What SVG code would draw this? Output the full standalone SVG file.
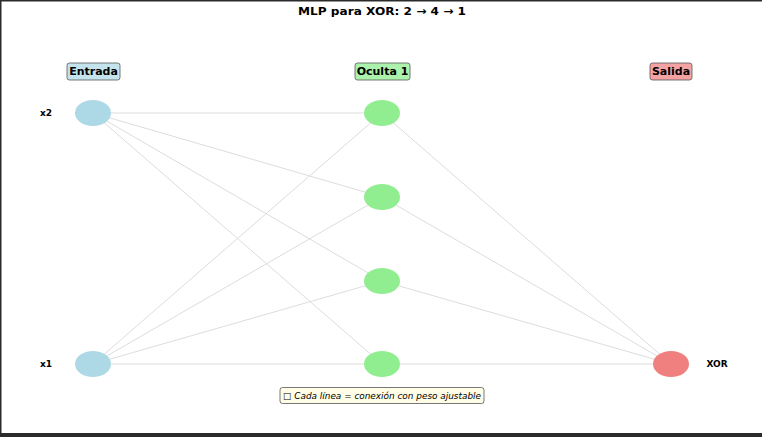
<svg xmlns="http://www.w3.org/2000/svg" width="762" height="437" viewBox="0 0 762 437">
<style>
.edge{stroke:#dcdcdc;stroke-width:1;fill:none}
.in{fill:#add8e6}
.hid{fill:#90ee90}
.out{fill:#f08080}
.lbl{font-family:"DejaVu Sans",sans-serif;font-weight:bold;font-size:11px;text-anchor:middle;dominant-baseline:central;fill:#000}
.nl{font-family:"DejaVu Sans",sans-serif;font-weight:bold;font-size:9px;text-anchor:middle;dominant-baseline:central;fill:#000}
.box{stroke:#555;stroke-width:0.8}
</style>
<rect x="0" y="0" width="762" height="437" fill="#ffffff"/>
<rect x="0" y="0" width="762" height="1.5" fill="#2b2b2b"/>
<rect x="0" y="0" width="1.5" height="437" fill="#2b2b2b"/>
<rect x="0" y="433" width="762" height="4" fill="#2b2b2b"/>
<text x="382" y="11.5" class="lbl" font-size="13" textLength="168" lengthAdjust="spacingAndGlyphs">MLP para XOR: 2 → 4 → 1</text>
<g id="connectors">
<line class="edge" x1="93" y1="113" x2="382" y2="113"/>
<line class="edge" x1="93" y1="113" x2="382" y2="197"/>
<line class="edge" x1="93" y1="113" x2="382" y2="281"/>
<line class="edge" x1="93" y1="113" x2="382" y2="364"/>
<line class="edge" x1="93" y1="364" x2="382" y2="113"/>
<line class="edge" x1="93" y1="364" x2="382" y2="197"/>
<line class="edge" x1="93" y1="364" x2="382" y2="281"/>
<line class="edge" x1="93" y1="364" x2="382" y2="364"/>
<line class="edge" x1="382" y1="113" x2="671" y2="364"/>
<line class="edge" x1="382" y1="197" x2="671" y2="364"/>
<line class="edge" x1="382" y1="281" x2="671" y2="364"/>
<line class="edge" x1="382" y1="364" x2="671" y2="364"/>
</g>
<g id="layer-entrada">
<rect class="box" x="67" y="63" width="53" height="17" rx="2.5" fill="#c4e3ed"/>
<text x="93.5" y="71.5" class="lbl">Entrada</text>
</g>
<g id="layer-oculta">
<rect class="box" x="355" y="63" width="55" height="17" rx="2.5" fill="#acf2ac"/>
<text x="382.5" y="71.5" class="lbl">Oculta 1</text>
</g>
<g id="layer-salida">
<rect class="box" x="650" y="63" width="42" height="17" rx="2.5" fill="#f4a2a2"/>
<text x="671" y="71.5" class="lbl">Salida</text>
</g>
<g id="node-x2"><ellipse class="in" cx="93" cy="113" rx="18" ry="13"/><text x="46" y="113" class="nl">x2</text></g>
<g id="node-x1"><ellipse class="in" cx="93" cy="364" rx="18" ry="13"/><text x="46" y="364" class="nl">x1</text></g>
<g id="node-h1"><ellipse class="hid" cx="382" cy="113" rx="18" ry="13"/></g>
<g id="node-h2"><ellipse class="hid" cx="382" cy="197" rx="18" ry="13"/></g>
<g id="node-h3"><ellipse class="hid" cx="382" cy="281" rx="18" ry="13"/></g>
<g id="node-h4"><ellipse class="hid" cx="382" cy="364" rx="18" ry="13"/></g>
<g id="node-xor"><ellipse class="out" cx="671" cy="364" rx="18" ry="13"/><text x="717" y="364" class="nl">XOR</text></g>
<g id="caption">
<rect x="280" y="387.5" width="204" height="16" rx="2.5" fill="#fffde6" stroke="#555" stroke-width="0.8"/>
<text x="382" y="395.5" font-family="DejaVu Sans,sans-serif" font-style="italic" font-size="9.5" text-anchor="middle" dominant-baseline="central" fill="#000" textLength="198" lengthAdjust="spacingAndGlyphs">□ Cada línea = conexión con peso ajustable</text>
</g>
</svg>
